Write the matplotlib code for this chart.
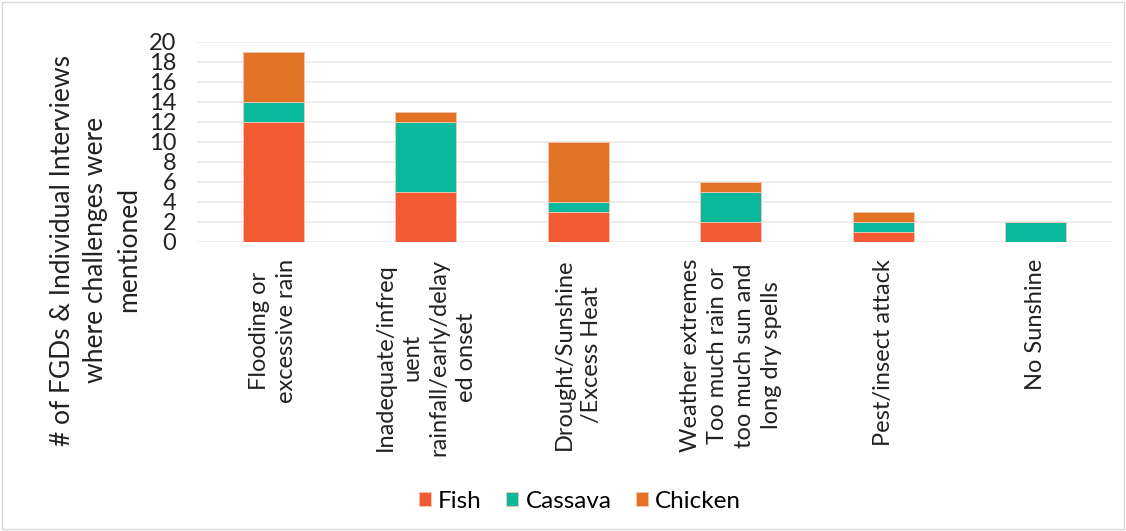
import matplotlib.pyplot as plt
import numpy as np

categories = ['Flooding or\nexcessive rain',
              'Inadequate/infreq\nuent\nrainfall/early/delay\ned onset',
              'Drought/Sunshine\n/Excess Heat',
              'Weather extremes\nToo much rain or\ntoo much sun and\nlong dry spells',
              'Pest/insect attack',
              'No Sunshine']
fish = [12, 5, 3, 2, 1, 0]
cassava = [2, 7, 1, 3, 1, 2]
chicken = [5, 1, 6, 1, 1, 0]
yticks = list(range(0, 21, 2))

plt.rcParams['font.family'] = ['Lato', 'DejaVu Sans']

fig = plt.figure(figsize=(11.26, 5.31), dpi=100)
ax = fig.add_axes([197 / 1126, 1 - 242 / 531, 915 / 1126, 200 / 531])

x = np.arange(len(categories))
w = 0.4
ec = '#F5C6B5'
ax.bar(x, fish, w, color='#F15A32', label='Fish', edgecolor=ec, linewidth=0.6, zorder=3)
ax.bar(x, cassava, w, bottom=fish, color='#0AB89C', label='Cassava', edgecolor=ec, linewidth=0.6, zorder=3)
base = np.array(fish) + np.array(cassava)
ax.bar(x, chicken, w, bottom=base, color='#E27326', label='Chicken', edgecolor=ec, linewidth=0.6, zorder=3)

ax.set_xlim(-0.5, len(categories) - 0.5)
ax.set_ylim(0, 20)
ax.set_yticks(yticks)
ax.set_yticklabels([str(t) for t in yticks], fontsize=17, color='#222222')
ax.set_xticks(x)
ax.set_xticklabels(categories, rotation=90, fontsize=17, color='#222222',
                   ha='center', va='top', multialignment='center', linespacing=1.35)
ax.tick_params(axis='both', length=0)
ax.tick_params(axis='x', pad=12)
ax.tick_params(axis='y', pad=15)
ax.grid(axis='y', color='#EEEEEE', linewidth=1.6, zorder=0)
for s in ax.spines.values():
    s.set_visible(False)

fig.text(96 / 1126, 1 - 250 / 531,
         '# of FGDs & Individual Interviews\nwhere challenges were\nmentioned',
         rotation=90, ha='center', va='center', fontsize=19, color='#222222',
         multialignment='center', linespacing=1.4)

fig.legend(loc='center', bbox_to_anchor=(580 / 1126, 1 - 501 / 531), ncol=3,
           frameon=False, fontsize=17.5, handlelength=0.5, handleheight=0.5,
           handletextpad=0.3, columnspacing=1.0)

fig.patches.append(plt.Rectangle((0.002, 0.003), 0.996, 0.994, transform=fig.transFigure,
                                 fill=False, edgecolor='#D9D9D9', linewidth=1))

fig.savefig('out.png', dpi=100)
